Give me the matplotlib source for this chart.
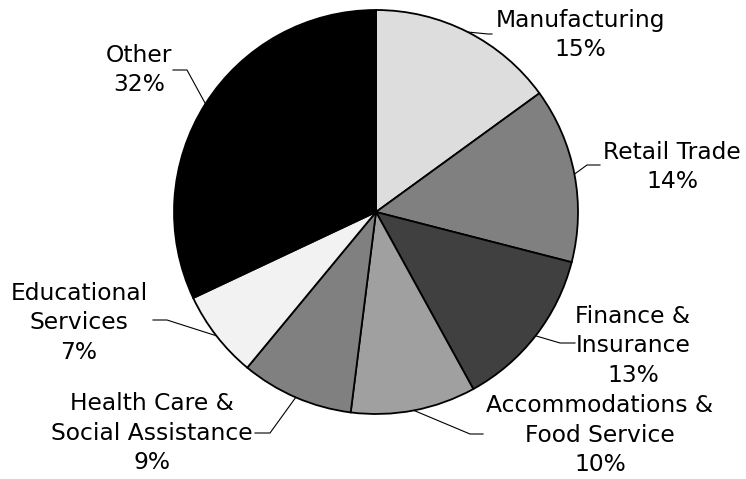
import numpy as np
import matplotlib
matplotlib.use("Agg")
import matplotlib.pyplot as plt

# data
sectors = ["Manufacturing", "Retail Trade", "Finance &\nInsurance",
           "Accommodations &\nFood Service", "Health Care &\nSocial Assistance",
           "Educational\nServices", "Other"]
shares = [15, 14, 13, 10, 9, 7, 32]
colors = ["#dddddd", "#808080", "#404040", "#a0a0a0", "#808080", "#f2f2f2", "#000000"]

# layout (pixel positions on the 746x479 canvas)
W, H = 746, 479
CX, CY, R = 376, 212, 202
label_pos = [(580, 35), (672, 167), (633, 346), (600, 435), (152, 433), (79, 323), (139, 70)]
elbows = [(488, 34), (587, 165), (560, 343), (470, 434), (270, 433), (167, 320), (187, 70)]
ends = [(492, 34), (600, 165), (575, 343), (483, 434), (255, 433), (153, 320), (173, 70)]


def px(p):
    return ((p[0] - CX) / R, (CY - p[1]) / R)


fig = plt.figure(figsize=(W / 100, H / 100), dpi=100)
ax = fig.add_axes([0, 0, 1, 1])

wedges, _ = ax.pie(shares, colors=colors, startangle=90, counterclock=False,
                   radius=1, center=(0, 0), frame=True,
                   wedgeprops=dict(edgecolor="black", linewidth=1.3))
ax.set_xlim(-CX / R, (W - CX) / R)
ax.set_ylim(-(H - CY) / R, CY / R)
ax.set_aspect("auto")
ax.axis("off")

for w, name, val, lp, el, en in zip(wedges, sectors, shares, label_pos, elbows, ends):
    mid = np.deg2rad((w.theta1 + w.theta2) / 2)
    edge = (np.cos(mid), np.sin(mid))
    e1, e2 = px(el), px(en)
    ax.plot([edge[0], e1[0], e2[0]], [edge[1], e1[1], e2[1]], color="black", lw=0.8)
    tx, ty = px(lp)
    ax.text(tx, ty, f"{name}\n{val}%", ha="center", va="center", fontsize=16.8,
            family="DejaVu Sans", linespacing=1.36, color="black")

fig.savefig("out.png", dpi=100)
